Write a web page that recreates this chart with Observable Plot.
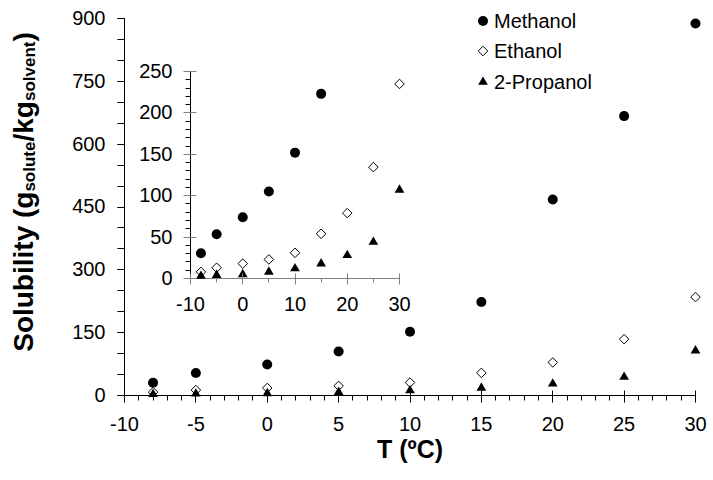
<!DOCTYPE html>
<html>
<head>
<meta charset="utf-8">
<script src="https://cdn.jsdelivr.net/npm/d3@7"></script>
<script src="https://cdn.jsdelivr.net/npm/@observablehq/plot@0.6"></script>
<style>
  body { margin: 0; background: #fff; }
  #wrap { width: 713px; height: 480px; }
</style>
</head>
<body>
<div id="wrap"></div>
<script>
// ---- data ----
const T = [-8, -5, 0, 5, 10, 15, 20, 25, 30];
const methanol = [30.5, 53.5, 74, 105, 152, 223, 468, 667, 888];
const ethanol = [8, 13, 18, 23, 31, 54, 79, 134.5, 235];
const propanol = [3, 4, 5, 8, 12, 18, 28, 44, 107];
const seriesNames = ["Methanol", "Ethanol", "2-Propanol"];

const mainXTicks = [-10, -5, 0, 5, 10, 15, 20, 25, 30];
const mainYTicks = [0, 150, 300, 450, 600, 750, 900];
const insetXTicks = [-10, 0, 10, 20, 30];
const insetYTicks = [0, 50, 100, 150, 200, 250];
const xTitle = "T (ºC)";
const yTitleParts = ["Solubility (g", "solute", "/kg", "solvent", ")"];

// ---- helpers ----
const FONT = "'Liberation Sans', Arial, Helvetica, sans-serif";
const GRAY = "#808080";
const rows = vals => T.map((t, i) => ({t, v: vals[i]}));

const dotMarks = (filter) => [
  Plot.dot(rows(methanol), {x: "t", y: "v", r: 5, symbol: "circle", fill: "black", filter}),
  Plot.dot(rows(ethanol), {x: "t", y: "v", r: 4.3, symbol: "diamond2", fill: "white", stroke: "black", strokeWidth: 1, filter}),
  Plot.dot(rows(propanol), {x: "t", y: "v", r: 3.6, symbol: "triangle", fill: "black", filter})
];

// ---- main chart ----
const main = Plot.plot({
  width: 713, height: 480,
  marginLeft: 124, marginRight: 18, marginTop: 18, marginBottom: 85,
  style: {fontFamily: FONT, fontSize: "20px", color: "black", background: "white"},
  x: {domain: [-10, 30]},
  y: {domain: [0, 900]},
  marks: [
    Plot.ruleY([0], {stroke: "black"}),
    Plot.ruleX([-10], {stroke: "black"}),
    Plot.axisX({ticks: mainXTicks, tickSize: 0, tickPadding: 21, label: null, fontSize: 20, tickFormat: d => String(d)}),
    Plot.axisY({ticks: mainYTicks, tickSize: 0, tickPadding: 19, label: null, fontSize: 20, tickFormat: d => String(d)}),
    ...dotMarks(undefined),
    Plot.text([xTitle], {text: d => d, frameAnchor: "bottom", dy: 62, fontSize: 25, fontWeight: "bold"})
  ]
});

// ---- inset chart ----
const inset = Plot.plot({
  width: 713, height: 480,
  marginLeft: 190, marginRight: 314, marginTop: 71, marginBottom: 202,
  style: {fontFamily: FONT, fontSize: "20px", color: "black", background: "none"},
  x: {domain: [-10, 30]},
  y: {domain: [0, 250]},
  marks: [
    Plot.ruleY([0], {stroke: GRAY}),
    Plot.ruleX([-10], {stroke: "black"}),
    Plot.axisX({ticks: insetXTicks, tickSize: 0, tickPadding: 18, label: null, fontSize: 20, tickFormat: d => String(d)}),
    Plot.axisY({ticks: insetYTicks, tickSize: 0, tickPadding: 18, label: null, fontSize: 20, tickFormat: d => String(d)}),
    ...dotMarks(d => d.v <= 250)
  ]
});

document.getElementById("wrap").appendChild(main);
const svg = d3.select(main);

// ---- tick marks, positioned with each chart's own Plot scales ----
function drawTicks(chart, cfg) {
  const sx = chart.scale("x"), sy = chart.scale("y");
  const X = v => sx.apply(v), Y = v => sy.apply(v);
  const g = svg.append("g").attr("transform", "translate(0.5,0.5)").attr("fill", "none").attr("stroke-width", 1);
  const x0 = X(cfg.x0), y0 = Y(cfg.y0);
  const addV = (vals, up, down, color) => vals.forEach(v => {
    const px = Math.round(X(v));
    g.append("line").attr("x1", px).attr("x2", px).attr("y1", Math.round(y0) - up).attr("y2", Math.round(y0) + down).attr("stroke", color);
  });
  const addH = (vals, left, right, color) => vals.forEach(v => {
    const py = Math.round(Y(v));
    g.append("line").attr("y1", py).attr("y2", py).attr("x1", Math.round(x0) - left).attr("x2", Math.round(x0) + right).attr("stroke", color);
  });
  addV(cfg.xMinor, 0, cfg.xMinorLen, cfg.xColor);
  addV(cfg.xMajor, cfg.xMajorUp, cfg.xMajorDown, cfg.xColor);
  addH(cfg.yMinor, cfg.yMinorLen, 0, "black");
  addH(cfg.yMajor, cfg.yMajorLeft, cfg.yMajorRight, cfg.yColor);
}

drawTicks(main, {
  x0: -10, y0: 0,
  xMinor: d3.range(-10, 31, 1), xMajor: mainXTicks,
  yMinor: d3.range(0, 901, 50), yMajor: mainYTicks,
  xMinorLen: 5, xMajorUp: 5, xMajorDown: 7,
  yMinorLen: 7, yMajorLeft: 7, yMajorRight: 0,
  xColor: "black", yColor: "black"
});

// nest the inset chart inside the main SVG
const insetG = svg.append("g").attr("class", "inset");
Array.from(inset.childNodes).forEach(n => insetG.node().appendChild(n));

drawTicks(inset, {
  x0: -10, y0: 0,
  xMinor: d3.range(-10, 31, 5), xMajor: insetXTicks,
  yMinor: d3.range(0, 251, 10), yMajor: insetYTicks,
  xMinorLen: 4, xMajorUp: 5, xMajorDown: 6,
  yMinorLen: 5, yMajorLeft: 7, yMajorRight: 6,
  xColor: GRAY, yColor: GRAY
});

// ---- y-axis title with subscripts ----
const yt = svg.append("text")
  .attr("transform", "translate(33,192) rotate(-90)")
  .attr("text-anchor", "middle")
  .attr("font-family", FONT)
  .attr("font-weight", "bold")
  .attr("font-size", 28)
  .attr("fill", "black");
yTitleParts.forEach((p, i) => {
  const sub = i % 2 === 1;
  yt.append("tspan")
    .attr("font-size", sub ? 17 : 28)
    .attr("dy", i === 0 ? 0 : (sub ? 2 : -2))
    .text(p);
});

// ---- legend ----
const legendSymbols = [d3.symbolCircle, d3.symbolDiamond2, d3.symbolTriangle];
const legendSizes = [Math.PI * 25, Math.PI * 4.3 * 4.3, Math.PI * 3.6 * 3.6];
const legendFills = ["black", "white", "black"];
const leg = svg.append("g").attr("font-family", FONT).attr("font-size", 20).attr("text-anchor", "start");
const rowY = [21, 51, 82];
seriesNames.forEach((name, i) => {
  const g = leg.append("g").attr("transform", `translate(483,${rowY[i]})`);
  g.append("path").attr("d", d3.symbol(legendSymbols[i], legendSizes[i])())
    .attr("fill", legendFills[i]).attr("stroke", i === 1 ? "black" : "none");
  g.append("text").attr("x", 11).attr("dy", "0.35em").attr("text-anchor", "start").attr("fill", "black").text(name);
});
</script>
</body>
</html>
